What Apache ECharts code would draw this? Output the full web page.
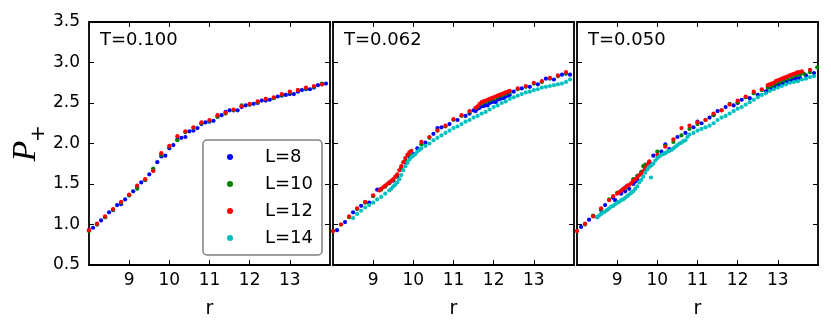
<!DOCTYPE html>
<html><head><meta charset="utf-8">
<script src="https://cdn.jsdelivr.net/npm/echarts@6/dist/echarts.min.js"></script>
<style>html,body{margin:0;padding:0;background:#fff}#c{width:831px;height:332px}</style>
</head><body><div id="c"></div>
<script>
// ---- labels / ticks ----
const panelTitles = ['T=0.100', 'T=0.062', 'T=0.050'];
const seriesNames = ['L=8', 'L=10', 'L=12', 'L=14'];
const seriesColors = ['#0000ff', '#008000', '#ff0000', '#00bfbf'];
const xRange = [8, 14];
const xTickStep = 1;
const yRange = [0.5, 3.5];
const yTickStep = 0.5;
const xName = 'r';

// ---- panel 1 : T=0.100 ----
const p1_L8_r = [8.0,8.1,8.2,8.3,8.4,8.5,8.6,8.7,8.8,8.9,9.0,9.1,9.2,9.3,9.4,9.5,9.6,9.7,9.8,9.9,10.0,10.1,10.2,10.3,10.4,10.5,10.6,10.7,10.8,10.9,11.0,11.1,11.2,11.3,11.4,11.5,11.6,11.7,11.8,11.9,12.0,12.1,12.2,12.3,12.4,12.5,12.6,12.7,12.8,12.9,13.0,13.1,13.2,13.3,13.4,13.5,13.6,13.7,13.8,13.9];
const p1_L8_P = [0.93,0.96,1.00,1.05,1.09,1.15,1.18,1.24,1.25,1.31,1.36,1.41,1.46,1.52,1.55,1.62,1.67,1.77,1.84,1.85,1.94,1.98,2.05,2.07,2.08,2.15,2.16,2.19,2.24,2.26,2.27,2.28,2.33,2.35,2.39,2.41,2.41,2.41,2.45,2.47,2.48,2.49,2.50,2.53,2.53,2.54,2.56,2.58,2.59,2.60,2.61,2.61,2.64,2.66,2.67,2.67,2.69,2.72,2.73,2.74];
const p1_L10_r = [8.0,8.2,8.4,8.6,8.8,9.0,9.2,9.4,9.6,9.8,10.0,10.2,10.4,10.6,10.8,11.0,11.2,11.4,11.6,11.8,12.0,12.2,12.4,12.6,12.8,13.0,13.2,13.4,13.6,13.8];
const p1_L10_P = [0.92,1.00,1.09,1.18,1.27,1.36,1.44,1.55,1.69,1.86,1.96,2.04,2.14,2.19,2.25,2.28,2.33,2.37,2.41,2.47,2.48,2.51,2.55,2.56,2.60,2.63,2.66,2.68,2.70,2.74];
const p1_L12_r = [8.0,8.2,8.4,8.6,8.8,9.0,9.2,9.4,9.6,9.8,10.0,10.2,10.4,10.6,10.8,11.0,11.2,11.4,11.6,11.8,12.0,12.2,12.4,12.6,12.8,13.0,13.2,13.4,13.6,13.8];
const p1_L12_P = [0.93,1.01,1.10,1.19,1.28,1.37,1.48,1.56,1.66,1.88,1.97,2.09,2.15,2.20,2.26,2.29,2.35,2.38,2.42,2.46,2.49,2.52,2.55,2.57,2.61,2.64,2.66,2.69,2.71,2.73];
const p1_L14_r = [];
const p1_L14_P = [];

// ---- panel 2 : T=0.062 ----
const p2_L8_r = [8.1,8.3,8.5,8.7,8.9,9.1,9.2,9.3,9.4,9.5,9.6,9.7,9.8,9.9,10.0,10.1,10.3,10.5,10.6,10.7,10.9,11.1,11.3,11.4,11.5,11.55,11.6,11.65,11.7,11.75,11.8,11.85,11.9,11.95,12.0,12.05,12.1,12.15,12.2,12.25,12.3,12.35,12.4,12.5,12.7,12.9,13.1,13.3,13.5,13.7,13.9];
const p2_L8_P = [0.93,1.03,1.15,1.23,1.27,1.43,1.44,1.47,1.51,1.54,1.59,1.68,1.77,1.84,1.87,1.94,2.01,2.12,2.19,2.20,2.24,2.29,2.34,2.37,2.41,2.40,2.43,2.44,2.46,2.46,2.48,2.47,2.50,2.51,2.52,2.51,2.54,2.55,2.56,2.56,2.58,2.59,2.60,2.64,2.68,2.70,2.73,2.80,2.79,2.85,2.85];
const p2_L10_r = [8.0,8.2,8.4,8.6,8.8,9.0,9.2,9.3,9.4,9.5,9.6,9.7,9.8,9.9,10.2,10.4,10.6,10.8,11.0,11.2,11.4,11.6,11.7,11.8,11.9,12.0,12.1,12.2,12.3,12.4,12.6,12.8,13.0,13.2,13.4,13.6,13.8];
const p2_L10_P = [0.92,1.00,1.09,1.19,1.27,1.35,1.43,1.47,1.51,1.55,1.61,1.70,1.79,1.86,1.99,2.07,2.16,2.21,2.29,2.34,2.39,2.45,2.49,2.51,2.53,2.55,2.57,2.59,2.61,2.63,2.67,2.70,2.74,2.76,2.80,2.83,2.86];
const p2_L12_r = [8.0,8.2,8.4,8.6,8.8,9.0,9.15,9.2,9.25,9.3,9.35,9.4,9.45,9.5,9.55,9.6,9.65,9.7,9.75,9.8,9.85,9.9,9.95,10.2,10.4,10.6,10.8,11.0,11.2,11.4,11.55,11.6,11.65,11.7,11.75,11.8,11.85,11.9,11.95,12.0,12.05,12.1,12.15,12.2,12.25,12.3,12.35,12.4,12.6,12.8,13.0,13.2,13.4,13.6,13.8];
const p2_L12_P = [0.92,1.00,1.10,1.20,1.28,1.36,1.42,1.44,1.46,1.48,1.50,1.52,1.54,1.56,1.59,1.62,1.67,1.72,1.77,1.82,1.86,1.89,1.91,2.02,2.08,2.16,2.22,2.30,2.35,2.40,2.44,2.46,2.49,2.51,2.52,2.53,2.54,2.55,2.56,2.57,2.58,2.59,2.60,2.61,2.62,2.63,2.64,2.65,2.68,2.71,2.75,2.77,2.81,2.84,2.88];
const p2_L14_r = [8.5,8.6,8.7,8.8,8.9,9.0,9.1,9.2,9.3,9.4,9.45,9.5,9.55,9.6,9.65,9.7,9.75,9.8,9.85,9.9,9.95,10.0,10.05,10.1,10.15,10.2,10.3,10.4,10.5,10.6,10.7,10.8,10.9,11.0,11.1,11.2,11.3,11.4,11.5,11.6,11.7,11.8,11.9,12.0,12.1,12.2,12.3,12.4,12.5,12.6,12.7,12.8,12.9,13.0,13.1,13.2,13.3,13.4,13.5,13.6,13.7,13.8,13.9];
const p2_L14_P = [1.08,1.13,1.17,1.21,1.24,1.27,1.31,1.34,1.38,1.42,1.44,1.47,1.49,1.52,1.56,1.61,1.67,1.72,1.76,1.80,1.83,1.85,1.87,1.90,1.92,1.94,1.97,2.00,2.04,2.07,2.10,2.13,2.16,2.19,2.21,2.24,2.27,2.29,2.32,2.34,2.37,2.39,2.42,2.45,2.47,2.50,2.52,2.55,2.57,2.59,2.61,2.63,2.64,2.66,2.67,2.69,2.70,2.71,2.72,2.73,2.74,2.76,2.79];

// ---- panel 3 : T=0.050 ----
const p3_L8_r = [8.1,8.3,8.5,8.6,8.7,8.9,8.95,9.1,9.2,9.3,9.4,9.45,9.5,9.6,9.7,9.8,9.9,10.1,10.2,10.3,10.5,10.7,10.9,11.0,11.1,11.3,11.4,11.5,11.7,11.9,12.0,12.1,12.3,12.5,12.7,12.75,12.8,12.85,12.9,12.95,13.0,13.05,13.1,13.15,13.2,13.25,13.3,13.35,13.4,13.45,13.5,13.55,13.7,13.9];
const p3_L8_P = [0.97,1.06,1.09,1.18,1.24,1.33,1.30,1.38,1.41,1.44,1.50,1.53,1.56,1.63,1.69,1.77,1.85,1.90,1.99,1.93,2.08,2.13,2.20,2.27,2.25,2.32,2.35,2.40,2.45,2.47,2.50,2.54,2.56,2.60,2.64,2.66,2.67,2.68,2.69,2.71,2.72,2.73,2.74,2.75,2.76,2.76,2.77,2.78,2.79,2.80,2.80,2.81,2.84,2.87];
const p3_L10_r = [8.0,8.2,8.4,8.6,8.8,9.0,9.2,9.4,9.5,9.6,9.65,9.7,10.0,10.2,10.4,10.6,10.8,11.0,11.2,11.4,11.6,11.8,12.0,12.2,12.4,12.6,12.75,12.85,12.95,13.05,13.15,13.25,13.35,13.45,13.55,13.65,13.8,13.98];
const p3_L10_P = [0.92,1.00,1.11,1.19,1.31,1.39,1.45,1.56,1.60,1.65,1.72,1.74,1.90,1.97,2.02,2.10,2.18,2.24,2.29,2.35,2.41,2.49,2.51,2.57,2.62,2.66,2.69,2.71,2.74,2.76,2.78,2.80,2.82,2.84,2.85,2.86,2.88,2.94];
const p3_L12_r = [8.0,8.2,8.4,8.6,8.8,8.9,9.0,9.05,9.1,9.15,9.2,9.25,9.3,9.35,9.4,9.45,9.5,9.55,9.6,9.65,9.7,9.75,9.8,10.0,10.2,10.4,10.6,10.8,11.0,11.2,11.4,11.6,11.8,12.0,12.2,12.4,12.6,12.75,12.8,12.85,12.9,12.95,13.0,13.05,13.1,13.15,13.2,13.25,13.3,13.35,13.4,13.45,13.5,13.55,13.6,13.8];
const p3_L12_P = [0.92,1.01,1.10,1.20,1.30,1.35,1.38,1.40,1.42,1.44,1.46,1.48,1.49,1.51,1.54,1.56,1.58,1.61,1.63,1.66,1.70,1.74,1.78,1.86,1.96,2.05,2.19,2.22,2.26,2.29,2.37,2.41,2.48,2.53,2.58,2.64,2.67,2.72,2.73,2.74,2.75,2.77,2.78,2.79,2.80,2.81,2.82,2.83,2.84,2.85,2.86,2.87,2.88,2.88,2.89,2.91];
const p3_L14_r = [8.5,8.55,8.6,8.65,8.7,8.75,8.8,8.85,8.9,8.95,9.0,9.05,9.1,9.15,9.2,9.25,9.3,9.35,9.4,9.45,9.5,9.55,9.6,9.65,9.7,9.75,9.8,9.84,9.85,9.9,9.95,10.0,10.05,10.1,10.15,10.2,10.25,10.3,10.35,10.4,10.45,10.5,10.55,10.6,10.65,10.7,10.75,10.8,10.9,11.0,11.1,11.2,11.3,11.4,11.5,11.6,11.7,11.8,11.9,12.0,12.1,12.2,12.3,12.4,12.5,12.6,12.7,12.8,12.9,13.0,13.1,13.2,13.3,13.4,13.5,13.6,13.7,13.8,13.9];
const p3_L14_P = [1.09,1.11,1.13,1.15,1.16,1.18,1.20,1.22,1.23,1.25,1.27,1.28,1.30,1.31,1.33,1.35,1.37,1.39,1.41,1.44,1.47,1.52,1.55,1.59,1.64,1.68,1.71,1.58,1.73,1.75,1.79,1.82,1.84,1.86,1.87,1.88,1.90,1.91,1.92,1.94,1.96,1.98,2.00,2.01,2.03,2.04,2.08,2.11,2.13,2.16,2.18,2.20,2.22,2.25,2.29,2.32,2.34,2.37,2.40,2.43,2.45,2.48,2.51,2.54,2.57,2.60,2.62,2.65,2.67,2.69,2.71,2.73,2.75,2.76,2.77,2.79,2.80,2.82,2.83];

const panels = [
  [[p1_L8_r,p1_L8_P],[p1_L10_r,p1_L10_P],[p1_L12_r,p1_L12_P],[p1_L14_r,p1_L14_P]],
  [[p2_L8_r,p2_L8_P],[p2_L10_r,p2_L10_P],[p2_L12_r,p2_L12_P],[p2_L14_r,p2_L14_P]],
  [[p3_L8_r,p3_L8_P],[p3_L10_r,p3_L10_P],[p3_L12_r,p3_L12_P],[p3_L14_r,p3_L14_P]]
];

const FONT = '"DejaVu Sans"';
const gridLefts = [89, 333, 577];
const GRID_TOP = 22, GRID_W = 241, GRID_H = 243;
const frameLine = {show: true, onZero: false, lineStyle: {color: '#000', width: 1.8}};
const tickIn = {show: true, inside: true, length: 5, lineStyle: {color: '#000', width: 1}};

const grids = [], xAxes = [], yAxes = [], series = [], titles = [];
gridLefts.forEach((gl, i) => {
  grids.push({left: gl, top: GRID_TOP, width: GRID_W, height: GRID_H, containLabel: false});
  const xb = {type: 'value', min: xRange[0], max: xRange[1], interval: xTickStep, splitLine: {show: false}, axisLine: frameLine, axisTick: tickIn};
  xAxes.push(Object.assign({}, xb, {gridIndex: i, position: 'bottom',
    axisLabel: {show: true, fontFamily: FONT, fontSize: 17, color: '#000', margin: 7, showMinLabel: false, showMaxLabel: false},
    name: xName, nameLocation: 'middle', nameGap: 35, nameTextStyle: {fontFamily: FONT, fontSize: 19, color: '#000'}}));
  xAxes.push(Object.assign({}, xb, {gridIndex: i, position: 'top', axisLabel: {show: false}}));
  const yb = {type: 'value', min: yRange[0], max: yRange[1], interval: yTickStep, splitLine: {show: false}, axisLine: frameLine, axisTick: tickIn};
  yAxes.push(Object.assign({}, yb, {gridIndex: i, position: 'left',
    axisLabel: {show: i === 0, fontFamily: FONT, fontSize: 17, color: '#000', margin: 9, formatter: v => v.toFixed(1)}}));
  yAxes.push(Object.assign({}, yb, {gridIndex: i, position: 'right', axisLabel: {show: false}}));
  titles.push({text: panelTitles[i], left: gl + 11, top: 31, padding: 0,
    textStyle: {fontFamily: FONT, fontSize: 18, fontWeight: 'normal', color: '#000'}});
  panels[i].forEach((s, k) => {
    series.push({type: 'scatter', name: seriesNames[k], xAxisIndex: 2 * i, yAxisIndex: 2 * i,
      data: s[0].map((r, j) => [r, s[1][j]]), symbol: 'circle', symbolSize: 4.2,
      itemStyle: {color: seriesColors[k], opacity: 1}, clip: true, silent: true, z: 2 + k});
  });
});

const chart = echarts.init(document.getElementById('c'), null, {renderer: 'canvas'});
chart.setOption({
  animation: false,
  backgroundColor: '#fff',
  title: titles,
  grid: grids,
  xAxis: xAxes,
  yAxis: yAxes,
  series: series,
  legend: {
    show: true, data: seriesNames, orient: 'vertical', left: 203, top: 140,
    icon: 'circle', itemWidth: 6, itemHeight: 6, itemGap: 9,
    padding: [8, 9, 8, 24], borderColor: '#808080', borderWidth: 1.5, borderRadius: 4,
    backgroundColor: '#fff', selectedMode: false,
    textStyle: {fontFamily: FONT, fontSize: 18, color: '#000', padding: [0, 0, 0, 27]}
  },
  graphic: [
    {type: 'text', x: 26, y: 151, rotation: Math.PI / 2,
      style: {text: 'P', font: 'italic 34px "Liberation Serif"', fill: '#000', textAlign: 'center', textVerticalAlign: 'middle'}},
    {type: 'text', x: 38.5, y: 133.5, rotation: Math.PI / 2,
      style: {text: '+', font: '20px "DejaVu Sans"', fill: '#000', textAlign: 'center', textVerticalAlign: 'middle'}}
  ]
});
</script>
</body></html>
